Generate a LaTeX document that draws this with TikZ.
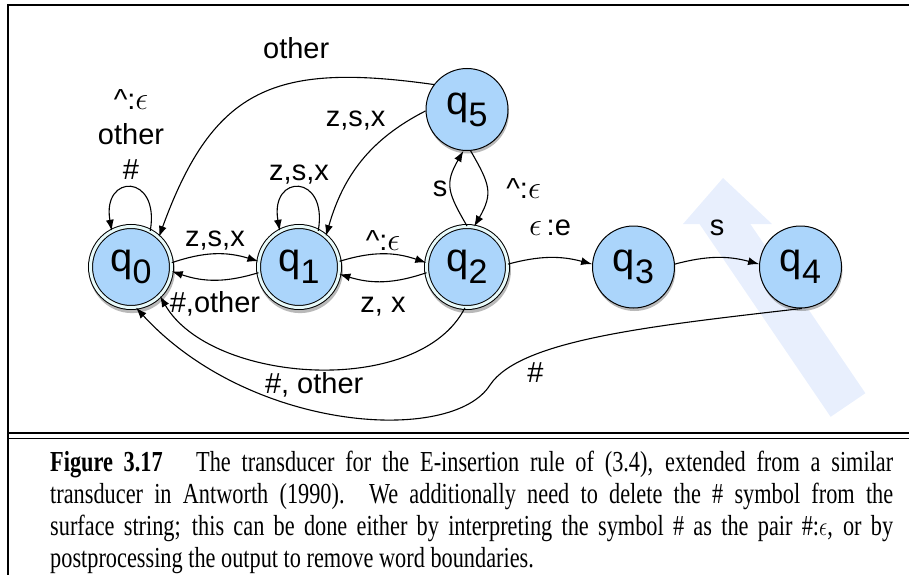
\documentclass[tikz,border=0pt]{standalone}
\usepackage{graphicx}
\usepackage{fontspec}
\setmainfont{Liberation Sans}
\newfontfamily\capfont{Liberation Serif}
\usetikzlibrary{arrows.meta,positioning,shadows}
\definecolor{stblue}{RGB}{171,213,251}
\definecolor{ringcol}{RGB}{232,250,250}
\definecolor{wmblue}{RGB}{232,239,253}
\newcommand{\qs}[1]{q\raisebox{-0.3em}{\fontsize{34}{34}\selectfont #1}}
\newcommand{\eps}{\scalebox{1.3}{$\epsilon$}}

\begin{document}
\begin{tikzpicture}[x=1pt, y=1pt,
  node distance=86pt,
  circ/.style={circle, draw, line width=1pt, fill=stblue, inner sep=0pt,
               font=\fontsize{40}{40}\selectfont},
  st/.style={circ, minimum size=82pt,
             drop shadow={shadow xshift=1pt, shadow yshift=-3pt, opacity=.55}},
  acc/.style={circ, minimum size=81pt, double=ringcol, double distance=3pt,
              drop shadow={shadow scale=1.06, shadow xshift=1pt, shadow yshift=-3pt, opacity=.55}},
  arr/.style={-{Latex[length=11pt,width=8pt]}, line width=1.1pt},
  lab/.style={font=\fontsize{29}{35}\selectfont, inner sep=3pt}]
\useasboundingbox (0,0) rectangle (909,-575);
% watermark
\fill[wmblue] (683,-224) -- (723,-178) -- (772,-224) -- cycle;
\draw[wmblue, line width=42pt] (712,-205) -- (848,-405);
% frame
\draw[line width=2pt] (909,-5) -- (8,-5) -- (8,-575);
\draw[line width=1.3pt] (8,-433) -- (909,-433);
\draw[line width=1.3pt] (8,-438.5) -- (909,-438.5);
% states
\node[acc] (q0) at (131,-267) {\qs{0}};
\node[acc, right=of q0] (q1) {\qs{1}};
\node[acc, right=of q1] (q2) {\qs{2}};
\node[st, right=84pt of q2] (q3) {\qs{3}};
\node[st, right=84pt of q3] (q4) {\qs{4}};
\node[st, above=75pt of q2] (q5) {\qs{5}};
% transitions
\draw[arr] (q0.62) to[out=80,in=100,looseness=3.9]
  node[lab, above=5pt, align=center] {\textasciicircum:\eps\\other\\\#} (q0.118);
\draw[arr] (q1.62) to[out=80,in=100,looseness=3.9] node[lab, above] {z,s,x} (q1.118);
\draw[arr] (q0.6) to[bend left=18] node[lab, above] {z,s,x} (q1.172);
\draw[arr] (q1.-172) to[bend left=18] node[lab, below=8pt] {\#,other} (q0.-6);
\draw[arr] (q1.8) to[bend left=18] node[lab, above] {\textasciicircum:\eps} (q2.174);
\draw[arr] (q2.-172) to[bend left=18] node[lab, below=12pt] {z, x} (q1.-10);
\draw[arr] (q2.90) to[out=120,in=-120,looseness=1.3] node[lab, left] {s} (q5.-95);
\draw[arr] (q5.-85) to[out=-60,in=60,looseness=1.3]
  node[lab, right=16pt] {\textasciicircum:\eps} (q2.80);
\draw[arr] (q2.4) to[bend left=15] node[lab, above=18pt] {\eps\,:e} (q3.176);
\draw[arr] (q3.4) to[bend left=15] node[lab, above=18pt] {s} (q4.176);
\draw[arr] (q5.143) to[out=172,in=70,looseness=1.3]
  node[lab, pos=0.36, above=20pt] {other} (q0.47);
\draw[arr] (q5.-178) to[out=207,in=74] node[lab, pos=0.25, above left] {z,s,x} (q1.49);
\draw[arr] (q2.-93) to[out=-117,in=-60,looseness=0.85] node[lab, below] {\#, other} (q0.-45);
\draw[arr] (q4.-88) .. controls (650,-326) and (520,-340) ..
  node[lab, pos=0.9, right=22pt] {\#} (490,-385)
  .. controls (452,-445) and (250,-432) .. (q0.-83);
% caption
\node[anchor=north west, inner sep=0pt] (cap) at (50,-451) {\scalebox{1}[1.3]{\parbox{843pt}{%
  \capfont\fontsize{22.3}{24.6}\selectfont
  \textbf{Figure 3.17}\hspace{1.5em}The transducer for the E-insertion rule of (3.4), extended from a similar\linebreak
  transducer in Antworth (1990).  We additionally need to delete the \# symbol from the\linebreak
  surface string; this can be done either by interpreting the symbol \# as the pair \#:$\epsilon$, or by\linebreak
  postprocessing the output to remove word boundaries.}}};
\end{tikzpicture}
\end{document}
